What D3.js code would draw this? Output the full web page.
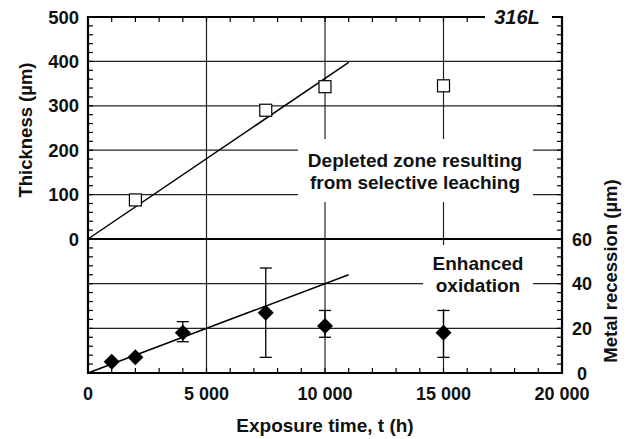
<!DOCTYPE html>
<html>
<head>
<meta charset="utf-8">
<script src="https://cdn.jsdelivr.net/npm/d3@7"></script>
<style>
  body { margin: 0; background: #fff; }
  text { font-family: "Liberation Sans", Arial, sans-serif; font-weight: bold; fill: #111; }
</style>
</head>
<body>
<svg id="chart" width="630" height="439"></svg>
<script>
// ---- data ----
const depletedTime = [2000, 7500, 10000, 15000];
const depletedThickness = [88, 290, 343, 345];
const depletedFit = [[0, 0], [11000, 398]];

const recessionTime = [1000, 2000, 4000, 7500, 10000, 15000];
const recessionValue = [5, 7, 18, 27, 21, 18];
const recessionLow = [5, 7, 14, 7, 16, 7];
const recessionHigh = [5, 7, 23, 47, 28, 28];
const recessionFit = [[0, 0], [11000, 44]];

const xTicks = [0, 5000, 10000, 15000, 20000];
const topTicks = [0, 100, 200, 300, 400, 500];
const botTicks = [0, 20, 40, 60];

const svg = d3.select("#chart");

// ---- scales ----
const x = d3.scaleLinear().domain([0, 20000]).range([88, 562]);
const yTop = d3.scaleLinear().domain([0, 500]).range([239, 17]);
const yBot = d3.scaleLinear().domain([0, 60]).range([373, 239]);

const fmt = d => d === 0 ? "0" : d3.format(",")(d).replace(/,/g, " ");

// ---- grid ----
const grid = svg.append("g").attr("stroke", "#222").attr("stroke-width", 1.2);
grid.selectAll("line.v").data([5000, 10000, 15000]).join("line")
  .attr("x1", d => x(d)).attr("x2", d => x(d))
  .attr("y1", yTop(500)).attr("y2", yBot(0));
grid.selectAll("line.ht").data([100, 200, 300, 400]).join("line")
  .attr("x1", x(0)).attr("x2", x(20000))
  .attr("y1", d => yTop(d)).attr("y2", d => yTop(d));
grid.selectAll("line.hb").data([20, 40]).join("line")
  .attr("class", "hb")
  .attr("x1", x(0)).attr("x2", x(20000))
  .attr("y1", d => yBot(d)).attr("y2", d => yBot(d));

// white boxes behind annotations
svg.append("rect").attr("x", 298).attr("y", 139).attr("width", 235).attr("height", 63).attr("fill", "#fff");
svg.append("rect").attr("x", 423).attr("y", 245).attr("width", 110).attr("height", 64).attr("fill", "#fff");

// ---- fit lines ----
const lineTop = d3.line().x(d => x(d[0])).y(d => yTop(d[1]));
const lineBot = d3.line().x(d => x(d[0])).y(d => yBot(d[1]));
svg.append("path").attr("d", lineTop(depletedFit)).attr("stroke", "#000").attr("stroke-width", 1.5).attr("fill", "none");
svg.append("path").attr("d", lineBot(recessionFit)).attr("stroke", "#000").attr("stroke-width", 1.5).attr("fill", "none");

// ---- error bars ----
const eb = svg.append("g").attr("stroke", "#000").attr("stroke-width", 1.3);
recessionTime.forEach((t, i) => {
  if (recessionHigh[i] - recessionLow[i] < 1) return;
  const cx = x(t);
  eb.append("line").attr("x1", cx).attr("x2", cx).attr("y1", yBot(recessionLow[i])).attr("y2", yBot(recessionHigh[i]));
  eb.append("line").attr("x1", cx - 6).attr("x2", cx + 6).attr("y1", yBot(recessionLow[i])).attr("y2", yBot(recessionLow[i]));
  eb.append("line").attr("x1", cx - 6).attr("x2", cx + 6).attr("y1", yBot(recessionHigh[i])).attr("y2", yBot(recessionHigh[i]));
});

// ---- markers ----
svg.append("g").selectAll("rect").data(depletedTime).join("rect")
  .attr("x", d => x(d) - 6).attr("y", (d, i) => yTop(depletedThickness[i]) - 6)
  .attr("width", 12).attr("height", 12)
  .attr("fill", "#fff").attr("stroke", "#000").attr("stroke-width", 1.2);

svg.append("g").selectAll("path").data(recessionTime).join("path")
  .attr("transform", (d, i) => `translate(${x(d)},${yBot(recessionValue[i])})`)
  .attr("d", "M0,-8L8,0L0,8L-8,0Z")
  .attr("fill", "#000");

// ---- frame ----
const frame = svg.append("g").attr("stroke", "#000").attr("stroke-width", 2.2).attr("fill", "none");
frame.append("path").attr("d", `M485,${yTop(500)}H${x(0)}V${yBot(0)}H${x(20000)}V${yTop(500)}H552`);
frame.append("line").attr("x1", x(0)).attr("x2", x(20000)).attr("y1", yTop(0)).attr("y2", yTop(0));

// ---- minor ticks (inward) ----
const ticks = svg.append("g").attr("stroke", "#000").attr("stroke-width", 1.2);
const xMinor = d3.range(1000, 20000, 1000);
ticks.selectAll("line.xb").data(xMinor).join("line").attr("class", "xb")
  .attr("x1", d => x(d)).attr("x2", d => x(d)).attr("y1", yBot(0)).attr("y2", yBot(0) - 5);
ticks.selectAll("line.xt").data(xMinor.filter(d => x(d) < 485 || x(d) > 552)).join("line").attr("class", "xt")
  .attr("x1", d => x(d)).attr("x2", d => x(d)).attr("y1", yTop(500)).attr("y2", yTop(500) + 5);
const topMinor = d3.range(20, 500, 20);
ticks.selectAll("line.tl").data(topMinor).join("line").attr("class", "tl")
  .attr("x1", x(0)).attr("x2", x(0) + 5).attr("y1", d => yTop(d)).attr("y2", d => yTop(d));
ticks.selectAll("line.tr").data(topMinor).join("line").attr("class", "tr")
  .attr("x1", x(20000)).attr("x2", x(20000) - 5).attr("y1", d => yTop(d)).attr("y2", d => yTop(d));
const botMinor = d3.range(4, 60, 4);
ticks.selectAll("line.bl").data(botMinor).join("line").attr("class", "bl")
  .attr("x1", x(0)).attr("x2", x(0) + 5).attr("y1", d => yBot(d)).attr("y2", d => yBot(d));
ticks.selectAll("line.br").data(botMinor).join("line").attr("class", "br")
  .attr("x1", x(20000)).attr("x2", x(20000) - 5).attr("y1", d => yBot(d)).attr("y2", d => yBot(d));

// ---- tick labels ----
svg.append("g").selectAll("text").data(xTicks).join("text")
  .attr("x", d => x(d)).attr("y", 400).attr("text-anchor", "middle")
  .attr("font-size", 18).text(fmt);
svg.append("g").selectAll("text").data(topTicks).join("text")
  .attr("x", 79).attr("y", d => yTop(d) + 6.5).attr("text-anchor", "end")
  .attr("font-size", 18.5).text(fmt);
svg.append("g").selectAll("text").data(botTicks).join("text")
  .attr("x", 582).attr("y", d => yBot(d) + 6.5).attr("text-anchor", "middle")
  .attr("font-size", 18).text(fmt);

// ---- axis titles ----
svg.append("text").attr("x", 325).attr("y", 432).attr("text-anchor", "middle")
  .attr("font-size", 19).text("Exposure time, t (h)");
svg.append("text").attr("transform", "translate(32,130) rotate(-90)").attr("text-anchor", "middle")
  .attr("font-size", 18.5).text("Thickness (µm)");
svg.append("text").attr("transform", "translate(617,271) rotate(-90)").attr("text-anchor", "middle")
  .attr("font-size", 18.5).text("Metal recession (µm)");

// ---- annotations ----
svg.append("text").attr("x", 517).attr("y", 24).attr("text-anchor", "middle")
  .attr("font-size", 20).attr("font-style", "italic").text("316L");
const ann1 = svg.append("text").attr("text-anchor", "middle").attr("font-size", 19);
ann1.append("tspan").attr("x", 415).attr("y", 167).text("Depleted zone resulting");
ann1.append("tspan").attr("x", 415).attr("y", 189).text("from selective leaching");
const ann2 = svg.append("text").attr("text-anchor", "middle").attr("font-size", 19);
ann2.append("tspan").attr("x", 478).attr("y", 270).text("Enhanced");
ann2.append("tspan").attr("x", 478).attr("y", 292).text("oxidation");
</script>
</body>
</html>
